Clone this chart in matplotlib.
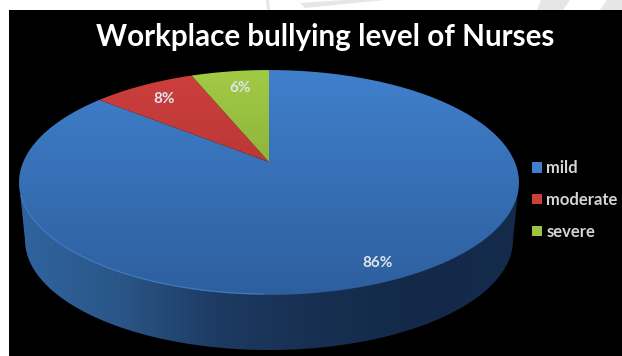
#!/usr/bin/env python3
"""Perspective 3-D pie of workplace bullying levels among nurses."""

import matplotlib
matplotlib.use("Agg")

import matplotlib.pyplot as plt
import numpy as np
from matplotlib.patches import Patch, Polygon, Rectangle

LABELS = ["mild", "moderate", "severe"]
VALUES = [86, 8, 6]
VALUE_LABELS = ["86%", "8%", "6%"]
TITLE = "Workplace bullying level of Nurses"

TOP_COLORS = [("#4080cc", "#2d5f9e"), ("#cf3f3d", "#9a2f2d"), ("#a2cb45", "#76952f")]
LEGEND_COLORS = ["#3f7fcb", "#c9403c", "#9bc344"]
LABEL_POS = [(378, 263), (164, 99), (240, 88)]

# projective disc: apex sits above the middle of the rim ellipse
CX, APEX_Y, RADIUS = 269.0, 162.0, 245.8
PERSP, SQUASH = 0.182, -79.2


def project(u, v):
    w = 1 + PERSP * v
    return CX + RADIUS * u / w, (SQUASH * v + APEX_Y) / w


def wedge_path(start, end):
    # angles are clockwise from twelve o'clock, in fractions of the turn
    t = np.linspace(start, end, 200) * 2 * np.pi
    x, y = project(np.sin(t), np.cos(t))
    return np.column_stack([np.r_[CX, x], np.r_[APEX_Y, y]])


def gradient(ax, colors, clip, extent, horizontal=False):
    rgb = np.array([matplotlib.colors.to_rgb(c) for c in colors])
    stops = np.linspace(0, 1, len(colors))
    pos = np.linspace(0, 1, 256)
    img = np.stack([np.interp(pos, stops, rgb[:, i]) for i in range(3)], axis=-1)
    img = img[np.newaxis, :, :] if horizontal else img[:, np.newaxis, :]
    im = ax.imshow(img, extent=extent, aspect="auto", origin="upper", zorder=2)
    im.set_clip_path(clip)


fig = plt.figure(figsize=(6.22, 3.56), dpi=100, facecolor="white")
ax = fig.add_axes([0, 0, 1, 1])
ax.set_xlim(0, 622)
ax.set_ylim(356, 0)
ax.axis("off")

# faint grey sweeps on the paper above the panel
for pts in [[(266, 0), (269, 0), (270, 10), (267, 10)],
            [(300, 3), (345, 0), (385, 0), (305, 8)],
            [(537, 10), (563, 10), (570, 0), (541, 0)],
            [(600, 10), (622, 10), (622, 0), (607, 0)]]:
    ax.add_patch(Polygon(pts, closed=True, fc="#e6e6e6", ec="none", zorder=0))
ax.add_patch(Rectangle((9, 10), 613, 346, fc="black", ec="none", zorder=1))

# side wall: hull of the rim and a narrower lower rim
t = np.linspace(-np.pi / 2, np.pi / 2, 200)
rim_x = 269 + 250 * np.sin(t)
rim_y = 182 + 112 * np.cos(t)
low_x = 269 + 244 * np.sin(t)
low_y = 240 + 110 * np.cos(t)
wall = Polygon(np.column_stack([np.r_[rim_x, low_x[::-1]], np.r_[rim_y, low_y[::-1]]]),
               closed=True, fc="none", ec="none")
ax.add_patch(wall)
gradient(ax, ["#30649f", "#2a5687", "#1d3a62", "#172f50", "#14294a", "#152b4c"], wall,
         (19, 519, 356, 170), horizontal=True)

# top face, one slice per value
fractions = np.array(VALUES) / sum(VALUES)
ends = np.cumsum(fractions)
starts = ends - fractions
for start, end, cols in zip(starts, ends, TOP_COLORS):
    path = Polygon(wedge_path(start, end), closed=True, fc="none", ec="none")
    ax.add_patch(path)
    gradient(ax, cols, path, (19, 519, 296, 68))

# thin highlight along the front-left edge of the rim
t = np.linspace(-1.45, -0.02, 120)
ax.plot(269 + 250 * np.sin(t), 182 + 112 * np.cos(t), color="#4a86cc", lw=0.8, alpha=0.7, zorder=3)

for text, (x, y) in zip(VALUE_LABELS, LABEL_POS):
    ax.text(x, y, text, color="#dfe4ea", fontsize=11, fontweight="bold", fontfamily="Lato",
            ha="center", va="center", zorder=4)

ax.text(325, 37, TITLE, color="white", fontsize=21.3, fontweight="bold", fontfamily="Lato",
        ha="center", va="center", zorder=4)

handles = [Patch(fc=c, ec="none") for c in LEGEND_COLORS]
ax.legend(handles, LABELS, loc="center left", bbox_to_anchor=(532 / 622, 1 - 200 / 356), frameon=False,
          labelcolor="#d4d4d4", prop={"family": "Lato", "weight": "bold", "size": 12}, handlelength=0.6,
          handleheight=0.6, handletextpad=0.25, labelspacing=0.95, borderpad=0, borderaxespad=0)

fig.savefig("out.png", dpi=100)
plt.close(fig)
